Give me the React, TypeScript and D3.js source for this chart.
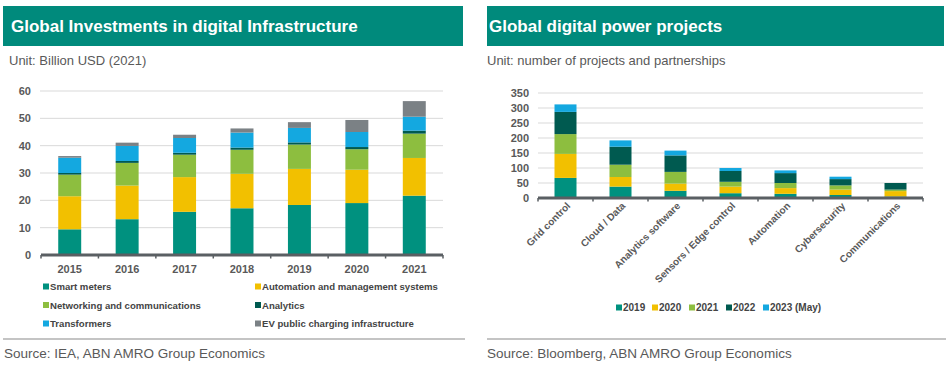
import React, { useEffect, useRef } from "react";
import * as d3 from "d3";

// left chart: investments, billion USD
const years = ["2015", "2016", "2017", "2018", "2019", "2020", "2021"];
const investSeries = [
  "Smart meters",
  "Automation and management systems",
  "Networking and communications",
  "Analytics",
  "Transformers",
  "EV public charging infrastructure",
];
const smartMeters = [9.4, 13.1, 15.8, 17.1, 18.3, 19.0, 21.7];
const automationSystems = [12.1, 12.3, 12.7, 12.6, 13.2, 12.2, 13.8];
const networking = [7.9, 8.3, 8.2, 8.8, 8.9, 7.5, 8.9];
const analytics = [0.6, 0.7, 0.7, 0.8, 0.8, 0.8, 1.1];
const transformers = [5.6, 5.5, 5.4, 5.5, 5.3, 5.5, 5.1];
const evCharging = [0.6, 1.2, 1.2, 1.5, 2.1, 4.4, 5.7];
const investTicks = [0, 10, 20, 30, 40, 50, 60];

// right chart: number of projects
const categories = [
  "Grid control",
  "Cloud / Data",
  "Analytics software",
  "Sensors / Edge control",
  "Automation",
  "Cybersecurity",
  "Communications",
];
const projectYears = ["2019", "2020", "2021", "2022", "2023 (May)"];
const p2019 = [67, 38, 24, 16, 14, 10, 5];
const p2020 = [80, 32, 24, 22, 19, 18, 18];
const p2021 = [66, 41, 39, 16, 17, 14, 5];
const p2022 = [74, 60, 55, 36, 33, 21, 22];
const p2023 = [25, 21, 16, 10, 9, 8, 0];
const projectTicks = [0, 50, 100, 150, 200, 250, 300, 350];

const colors = ["#00917f", "#f2c000", "#8dbe3f", "#005a50", "#14a8e0", "#7b8185"];
const HEAD = "#008a7c";
const TXT = "#595959";
const FONT = "'Liberation Sans', Arial, sans-serif";

function drawPanel(svg, opts) {
  const { x0, x1, title, unit, source, titleX, unitX, sourceX } = opts;
  svg.append("rect")
    .attr("x", x0).attr("y", 6)
    .attr("width", x1 - x0).attr("height", 40)
    .attr("fill", HEAD);
  svg.append("text")
    .attr("x", titleX).attr("y", 32)
    .attr("fill", "#ffffff")
    .attr("font-size", 17).attr("font-weight", 700)
    .text(title);
  svg.append("text")
    .attr("x", unitX).attr("y", 65)
    .attr("fill", TXT).attr("font-size", 13)
    .text(unit);
  svg.append("line")
    .attr("x1", x0).attr("x2", x1 + 2)
    .attr("y1", 339).attr("y2", 339)
    .attr("stroke", "#c4c4c4").attr("stroke-width", 2);
  svg.append("text")
    .attr("x", sourceX).attr("y", 358)
    .attr("fill", TXT).attr("font-size", 13.5)
    .text(source);
}

function stackedBars(svg, cats, seriesVals, x, y) {
  const rows = cats.map((c, i) => {
    const r = { cat: c };
    seriesVals.forEach((s, j) => (r["s" + j] = s[i]));
    return r;
  });
  const keys = seriesVals.map((_, j) => "s" + j);
  const stack = d3.stack().keys(keys)(rows);
  const g = svg.append("g");
  stack.forEach((layer, j) => {
    g.selectAll(null)
      .data(layer)
      .join("rect")
      .attr("x", (d) => x(d.data.cat))
      .attr("width", x.bandwidth())
      .attr("y", (d) => y(d[1]))
      .attr("height", (d) => Math.max(0, y(d[0]) - y(d[1])))
      .attr("fill", colors[j]);
  });
}

function yGrid(svg, y, ticks, left, right, labelX) {
  svg.append("g")
    .selectAll("line")
    .data(ticks.filter((t) => t > 0))
    .join("line")
    .attr("x1", left).attr("x2", right)
    .attr("y1", (d) => y(d)).attr("y2", (d) => y(d))
    .attr("stroke", "#d9d9d9").attr("stroke-width", 1);
  svg.append("g")
    .selectAll("text")
    .data(ticks)
    .join("text")
    .attr("x", labelX).attr("y", (d) => y(d))
    .attr("dy", "0.35em")
    .attr("text-anchor", "end")
    .attr("fill", TXT).attr("font-size", 11).attr("font-weight", 700)
    .text((d) => d);
}

function xAxisLine(svg, x, cats, y0) {
  const [a, b] = x.range();
  svg.append("line")
    .attr("x1", a).attr("x2", b)
    .attr("y1", y0).attr("y2", y0)
    .attr("stroke", "#5a5f63").attr("stroke-width", 3);
  const edges = cats.map((c) => x(c) - (x.step() - x.bandwidth()) / 2).concat([b]);
  svg.append("g")
    .selectAll("line")
    .data(edges)
    .join("line")
    .attr("x1", (d) => d).attr("x2", (d) => d)
    .attr("y1", y0).attr("y2", y0 + 3.5)
    .attr("stroke", "#5a5f63").attr("stroke-width", 1.5);
}

export default function App() {
  const ref = useRef(null);

  useEffect(() => {
    const svg = d3.select(ref.current);
    svg.selectAll("*").remove();
    svg.attr("font-family", FONT);

    svg.append("rect").attr("width", 950).attr("height", 366).attr("fill", "#ffffff");

    // ---------- left panel
    drawPanel(svg, {
      x0: 3, x1: 463, titleX: 11, unitX: 9, sourceX: 4,
      title: "Global Investments in digital Infrastructure",
      unit: "Unit: Billion USD (2021)",
      source: "Source: IEA, ABN AMRO Group Economics",
    });

    const xL = d3.scaleBand().domain(years).range([41, 443]).paddingInner(0.6).paddingOuter(0.3);
    const yL = d3.scaleLinear().domain([0, 60]).range([255, 91]);
    yGrid(svg, yL, investTicks, 40, 443, 31);
    stackedBars(svg, years,
      [smartMeters, automationSystems, networking, analytics, transformers, evCharging], xL, yL);
    xAxisLine(svg, xL, years, yL(0));

    svg.append("g")
      .selectAll("text")
      .data(years)
      .join("text")
      .attr("x", (d) => xL(d) + xL.bandwidth() / 2)
      .attr("y", 273)
      .attr("text-anchor", "middle")
      .attr("fill", TXT).attr("font-size", 11).attr("font-weight", 700)
      .text((d) => d);

    // legend left (2 columns)
    const lg = svg.append("g");
    investSeries.forEach((name, i) => {
      const col = i % 2;
      const row = Math.floor(i / 2);
      const lx = col === 0 ? 43 : 255;
      const ly = 290 + row * 18.5;
      lg.append("rect")
        .attr("x", lx).attr("y", ly - 6.5)
        .attr("width", 6).attr("height", 6)
        .attr("fill", colors[i]);
      lg.append("text")
        .attr("x", lx + 7).attr("y", ly)
        .attr("fill", "#444444").attr("font-size", 9.6).attr("font-weight", 700)
        .text(name);
    });

    // ---------- right panel
    drawPanel(svg, {
      x0: 487, x1: 944, titleX: 489, unitX: 487, sourceX: 487,
      title: "Global digital power projects",
      unit: "Unit: number of projects and partnerships",
      source: "Source: Bloomberg, ABN AMRO Group Economics",
    });

    const xR = d3.scaleBand().domain(categories).range([538, 923]).paddingInner(0.6).paddingOuter(0.3);
    const yR = d3.scaleLinear().domain([0, 350]).range([198, 93]);
    yGrid(svg, yR, projectTicks, 538, 923, 529);
    stackedBars(svg, categories, [p2019, p2020, p2021, p2022, p2023], xR, yR);
    xAxisLine(svg, xR, categories, yR(0));

    svg.append("g")
      .selectAll("text")
      .data(categories)
      .join("text")
      .attr("transform", (d) => `translate(${xR(d) + xR.bandwidth() / 2 + 3},${204}) rotate(-45)`)
      .attr("text-anchor", "end")
      .attr("dy", "0.35em")
      .attr("fill", TXT).attr("font-size", 10).attr("font-weight", 700)
      .text((d) => d);

    // legend right (one row, centred)
    const legendX = [616, 652, 689, 726, 763];
    const rg = svg.append("g");
    projectYears.forEach((name, i) => {
      rg.append("rect")
        .attr("x", legendX[i]).attr("y", 304.5)
        .attr("width", 6).attr("height", 6)
        .attr("fill", colors[i]);
      rg.append("text")
        .attr("x", legendX[i] + 7).attr("y", 311)
        .attr("fill", "#444444").attr("font-size", 10).attr("font-weight", 700)
        .text(name);
    });
  }, []);

  return (
    <svg
      ref={ref}
      width={950}
      height={366}
      style={{ position: "absolute", left: 0, top: 0 }}
    />
  );
}
